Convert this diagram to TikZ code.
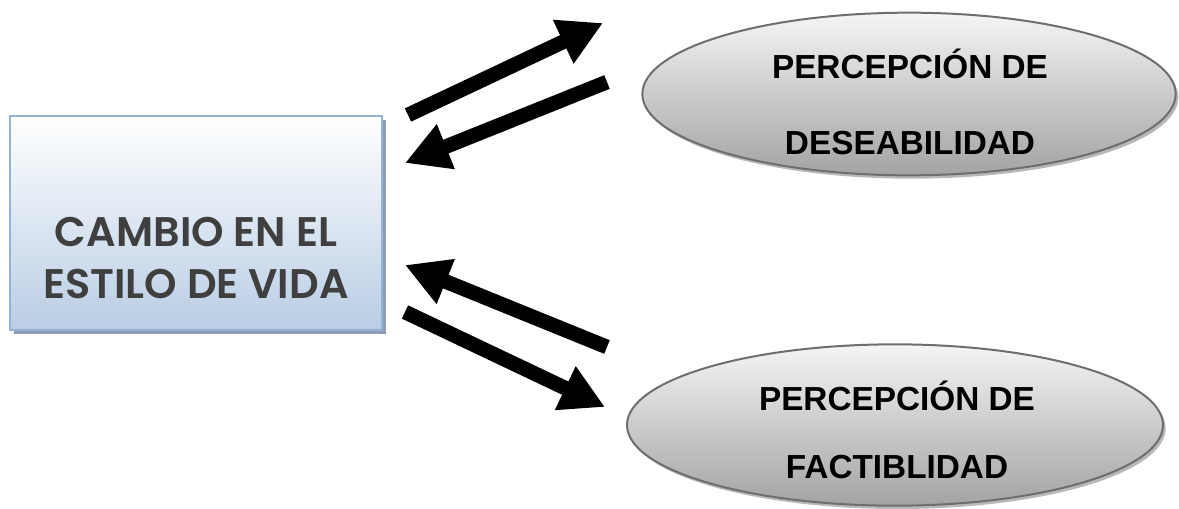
\documentclass[tikz,border=0pt]{standalone}
\usepackage{fontspec}
\setmainfont{Liberation Sans}
\newfontfamily\gothic{Poppins SemiBold}
\usetikzlibrary{positioning,arrows.meta,shadows,shapes.geometric}

\definecolor{boxline}{HTML}{95B3D7}
\definecolor{boxfill}{HTML}{B9CDE5}
\definecolor{boxshade}{HTML}{8E9DB3}
\definecolor{boxtext}{HTML}{3F3F3F}
\definecolor{ovalline}{HTML}{6E6E6E}
\definecolor{ovalfill}{HTML}{A3A3A3}
\definecolor{ovalshade}{HTML}{B8B8B8}

\begin{document}
\begin{tikzpicture}[x=0.75pt,y=-0.75pt,
	change/.style={rectangle, draw=boxline, line width=1.5pt, top color=white, bottom color=boxfill, minimum width=279pt, minimum height=160pt, inner sep=0pt, drop shadow={shadow xshift=3pt, shadow yshift=-3pt, fill=boxshade, opacity=1}},
	changetext/.style={text=boxtext, font=\gothic\fontsize{31}{39}\selectfont, align=center},
	oval/.style={ellipse, draw=ovalline, line width=1.5pt, top color=white!96!black, bottom color=ovalfill, inner sep=0pt, drop shadow={shadow xshift=2pt, shadow yshift=-2.5pt, fill=ovalshade, opacity=1}},
	ovaltext/.style={align=center, font=\bfseries\fontsize{25}{57}\selectfont},
	bigarrow/.style={line width=11pt, -{Triangle[length=33pt,width=34pt]}}
	]
	\useasboundingbox (0,0) rectangle (1179,508);

		\node (lifestyle) [change] at (196,223) {};
			\node (lifetext) [changetext] at (196,258) {CAMBIO EN EL\\ESTILO DE VIDA};
		\node (desire) [oval, minimum width=400pt, minimum height=122pt] at (909,94) {};
			\node (desiretext) [ovaltext] at (910,102) {PERCEPCIÓN DE\\DESEABILIDAD};
		\node (feasible) [oval, minimum width=402pt, minimum height=121pt] at (895,425) {};
			\node (feasibletext) [ovaltext, font=\bfseries\fontsize{25}{51}\selectfont] at (897,430) {PERCEPCIÓN DE\\FACTIBLIDAD};

		% arrow ends
		\coordinate (toDesireA) at (408,115);
		\coordinate (toDesireB) at (603,23);
		\coordinate (fromDesireA) at (607,82);
		\coordinate (fromDesireB) at (405,163);
		\coordinate (fromFeasA) at (607,347);
		\coordinate (fromFeasB) at (405,265);
		\coordinate (toFeasA) at (405,312);
		\coordinate (toFeasB) at (605,407);

	\draw [bigarrow] (toDesireA) -- (toDesireB);
	\draw [bigarrow] (fromDesireA) -- (fromDesireB);
	\draw [bigarrow] (fromFeasA) -- (fromFeasB);
	\draw [bigarrow] (toFeasA) -- (toFeasB);

\end{tikzpicture}
\end{document}
